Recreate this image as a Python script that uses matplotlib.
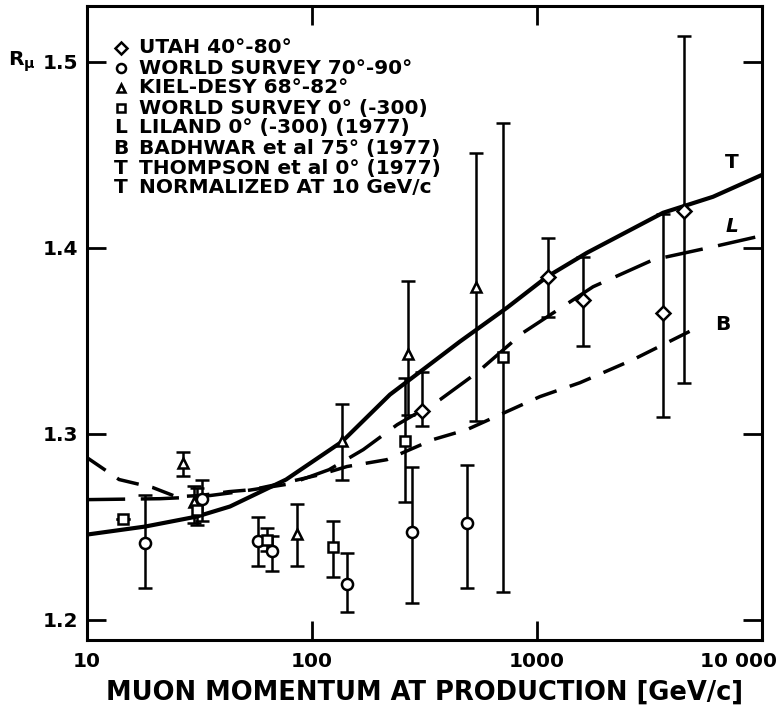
import numpy as np
import matplotlib
matplotlib.use("Agg")
import matplotlib.pyplot as plt
from matplotlib.transforms import ScaledTranslation

plt.rcParams['font.family'] = ['DejaVu Sans']
plt.rcParams['font.weight'] = 'bold'
plt.rcParams['mathtext.default'] = 'bf'

# --- data (momentum in GeV/c, R_mu) ---
# UTAH 40-80 deg (diamonds)
utah_p = [308, 1119, 1600, 3631, 4498]
utah_r = [1.312, 1.384, 1.372, 1.365, 1.420]
utah_lo = [1.304, 1.363, 1.347, 1.309, 1.327]
utah_hi = [1.333, 1.405, 1.395, 1.418, 1.514]

# WORLD SURVEY 70-90 deg (circles)
ws70_p = [18.1, 32.4, 57.5, 66.4, 143, 278, 489]
ws70_r = [1.241, 1.265, 1.242, 1.237, 1.219, 1.247, 1.252]
ws70_lo = [1.217, 1.253, 1.229, 1.226, 1.204, 1.209, 1.217]
ws70_hi = [1.267, 1.275, 1.255, 1.245, 1.236, 1.282, 1.283]

# KIEL-DESY 68-82 deg (triangles)
kiel_p = [26.7, 29.9, 85.8, 136, 267, 536]
kiel_r = [1.284, 1.263, 1.246, 1.296, 1.343, 1.379]
kiel_lo = [1.277, 1.252, 1.229, 1.275, 1.310, 1.307]
kiel_hi = [1.290, 1.272, 1.262, 1.316, 1.382, 1.451]

# WORLD SURVEY 0 deg (-300) (squares)
ws0_p = [14.5, 30.8, 63.1, 124, 259, 706]
ws0_r = [1.254, 1.259, 1.243, 1.239, 1.296, 1.341]
ws0_lo = [1.254, 1.251, 1.237, 1.223, 1.263, 1.215]
ws0_hi = [1.254, 1.271, 1.249, 1.253, 1.330, 1.467]

# curves
T_p = [10, 18.1, 30.8, 43.2, 76.7, 136, 222, 311, 454, 735, 1108, 1668, 3631, 6053, 10000]
T_r = [1.2457, 1.2500, 1.2554, 1.2608, 1.2753, 1.2957, 1.3210, 1.3344, 1.3495,
       1.3677, 1.3844, 1.3973, 1.4188, 1.4274, 1.4392]

L_p = [10, 21.1, 31.8, 47.9, 79.8, 119, 169, 239, 371, 541, 867, 1774, 3281, 6053, 9506]
L_r = [1.2645, 1.2650, 1.2660, 1.2688, 1.2730, 1.2806, 1.2914, 1.3048, 1.3183,
       1.3328, 1.3543, 1.3790, 1.3935, 1.4005, 1.4059]

B_p = [10, 13.9, 19.6, 24.9, 31.8, 42.8, 54.7, 79.8, 109, 143, 215, 345, 489, 685,
       1030, 1552, 2672, 4933]
B_r = [1.2871, 1.2753, 1.2710, 1.2661, 1.2667, 1.2688, 1.2699, 1.2742, 1.2780,
       1.2823, 1.2860, 1.2968, 1.3022, 1.3102, 1.3199, 1.3274, 1.3398, 1.3559]

legend_lines = ["UTAH 40°-80°", "WORLD SURVEY 70°-90°", "KIEL-DESY 68°-82°",
                "WORLD SURVEY 0° (-300)", "LILAND 0° (-300) (1977)",
                "BADHWAR et al 75° (1977)", "THOMPSON et al 0° (1977)",
                "NORMALIZED AT 10 GeV/c"]
legend_keys = ['D', 'o', '^', 's', 'L', 'B', 'T', 'T']

xticks = [10, 100, 1000, 10000]
xtick_labels = ['10', '100', '1000', '10 000']
yticks = [1.2, 1.3, 1.4, 1.5]

fig = plt.figure(figsize=(7.8, 7.1), dpi=100)
ax = fig.add_axes([0.1115, 0.0986, 0.8655, 0.8929])

ax.plot(T_p, T_r, color='black', lw=3, solid_capstyle='butt')
ax.plot(L_p, L_r, color='black', lw=2.5, linestyle=(0, (11, 4.5)))
ax.plot(B_p, B_r, color='black', lw=2.5, linestyle=(0, (6.5, 4)))


def draw(p, r, lo, hi, marker, ms):
    p = np.array(p); r = np.array(r)
    yerr = [r - np.array(lo), np.array(hi) - r]
    ax.errorbar(p, r, yerr=yerr, fmt=marker, ms=ms, mfc='white', mec='black',
                mew=1.8, ecolor='black', elinewidth=1.8, capsize=5, capthick=1.8,
                color='black', zorder=4)


draw(utah_p, utah_r, utah_lo, utah_hi, 'D', 7)
draw(ws70_p, ws70_r, ws70_lo, ws70_hi, 'o', 8)
draw(kiel_p, kiel_r, kiel_lo, kiel_hi, '^', 7)
draw(ws0_p, ws0_r, ws0_lo, ws0_hi, 's', 7)

ax.text(7360, 1.446, 'T', fontsize=14.5, ha='center', va='center')
ax.text(7360, 1.4113, 'L', fontsize=14.5, ha='center', va='center', style='italic')
ax.text(6710, 1.3586, 'B', fontsize=14.5, ha='center', va='center')

ax.set_xscale('log')
ax.set_xlim(10, 10000)
ax.set_ylim(1.189, 1.530)
ax.set_xticks(xticks)
ax.set_xticklabels(xtick_labels)
ax.xaxis.set_minor_locator(matplotlib.ticker.NullLocator())
ax.set_yticks(yticks)
ax.set_yticklabels(['1.2', '1.3', '1.4', '1.5'])
ax.tick_params(axis='both', which='major', direction='in', length=14, width=2,
               labelsize=14.5, top=True, right=True)
ax.tick_params(axis='x', pad=9)
ax.tick_params(axis='y', pad=6, labelright=False)
for s in ax.spines.values():
    s.set_linewidth(2.2)

# last x label sits left of its tick, like the original
last = ax.get_xticklabels()[-1]
last.set_horizontalalignment('right')
last.set_transform(last.get_transform() + ScaledTranslation(11 / 72, 0, fig.dpi_scale_trans))

ax.set_xlabel('MUON MOMENTUM AT PRODUCTION [GeV/c]', fontsize=18.5,
              fontweight='bold', labelpad=6)
ax.text(-0.117, 0.912, r'R$_{\mu}$', transform=ax.transAxes, fontsize=14.5,
        ha='left', va='center')

# legend block
ys = [0.934, 0.902, 0.871, 0.839, 0.808, 0.776, 0.744, 0.713]
for key, txt, y in zip(legend_keys, legend_lines, ys):
    if key in ('D', 'o', '^', 's'):
        ax.plot([0.050], [y], marker=key, ms=6 if key != 'o' else 6.5,
                mfc='white', mec='black', mew=1.8, transform=ax.transAxes,
                clip_on=False)
    else:
        ax.text(0.050, y, key, transform=ax.transAxes, fontsize=14.5,
                ha='center', va='center')
    ax.text(0.077, y, txt, transform=ax.transAxes, fontsize=14.5,
            ha='left', va='center')

fig.savefig('out.png', dpi=100)
